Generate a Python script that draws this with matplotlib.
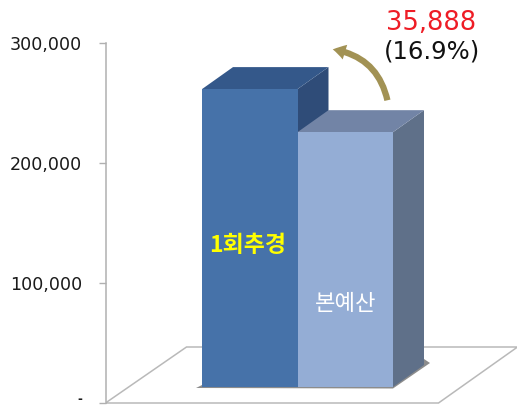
import matplotlib
matplotlib.use("Agg")
import matplotlib.pyplot as plt
from matplotlib.patches import FancyArrowPatch, Polygon

KR = ['Noto Sans CJK KR', 'DejaVu Sans']
W, H = 517, 405

categories = ['1회추경', '본예산']
values = [248246, 212358]
change_label = '35,888'
pct_label = '(16.9%)'
yticks = [0, 100000, 200000, 300000]
yticklabels = ['-', '100,000', '200,000', '300,000']

front_colors = ['#4672A9', '#94ADD5']
top_colors = ['#34588A', '#7284A6']
side_colors = ['#2F4C78', '#5F7089']
label_colors = ['#FFFF00', '#FFFFFF']

fig = plt.figure(figsize=(W / 100, H / 100), dpi=100)
ax_left = 105.5
ax = fig.add_axes([ax_left / W, 0, 1 - ax_left / W, 1])
ax.set_facecolor('none')

PXX = 95.5          # pixels per category
PXY = 120 / 100000  # pixels per value
x0 = 202            # pixel of left edge of the first bar
ax.set_xlim(-0.5 - (x0 - ax_left) / PXX, -0.5 + (W - x0) / PXX)
ax.set_ylim(-2 / PXY, (403) / PXY)

def dx(px):
    return px / PXX

def dy(px):
    return px / PXY

# floor
xl = ax.get_xlim()[0]
floor = [(xl, 0), (xl + dx(333), 0), (xl + dx(412), dy(56)), (xl + dx(81), dy(56))]
ax.add_patch(Polygon(floor, closed=True, fc='white', ec='#B9B9B9', lw=1.1, zorder=1))

base = dy(16)
depth_x, depth_y = dx(31), dy(22)
bw = 1.0

# shadow at the base
ax.add_patch(Polygon([(-0.5 - dx(6), base - dy(1)), (1.5, base - dy(1.5)),
                      (1.5 + depth_x + dx(6), base + depth_y + dy(2)),
                      (1.5 + depth_x, base + depth_y + dy(6)), (-0.5, base + dy(2))],
                     closed=True, fc='#666666', ec='none', alpha=0.75, zorder=1.5))

for i, v in enumerate(values):
    z = 2 + i
    l, r = i - bw / 2, i + bw / 2
    t = base + v
    ax.add_patch(Polygon([(r, base), (r + depth_x, base + depth_y), (r + depth_x, t + depth_y), (r, t)],
                         closed=True, fc=side_colors[i], ec='none', zorder=z))
    ax.add_patch(Polygon([(l, t), (r, t), (r + depth_x, t + depth_y), (l + depth_x, t + depth_y)],
                         closed=True, fc=top_colors[i], ec='none', zorder=z))
    ax.bar(i, v, width=bw, bottom=base, color=front_colors[i], zorder=z + 0.1, linewidth=0)

ax.text(-dx(2), dy(403 - 246), categories[0], color=label_colors[0], fontsize=16.5, fontweight='bold',
        family=KR, ha='center', va='center', zorder=6)
ax.text(1, dy(403 - 304), categories[1], color=label_colors[1], fontsize=16, fontweight='medium',
        family=KR, ha='center', va='center', zorder=6)

# axis
for s in ['top', 'right', 'bottom']:
    ax.spines[s].set_visible(False)
ax.spines['left'].set_bounds(0, 300000)
ax.spines['left'].set_color('#B0B0B0')
ax.spines['left'].set_linewidth(1.1)
ax.spines['left'].set_zorder(1.2)
ax.set_xticks([])
ax.set_yticks(yticks)
ax.set_yticklabels(yticklabels, fontsize=12.6, color='#1a1a1a', family='DejaVu Sans')
ax.tick_params(axis='y', length=5, width=1, color='#B0B0B0', pad=12)
zero = ax.get_yticklabels()[0]
zero.set_va('baseline')
zero.set_fontweight('bold')
zero.set_fontsize(8.5)

# change annotation
fig.text(431 / W, 1 - 23 / H, change_label, color='#EE1C25', fontsize=18.5, ha='center', va='center',
         family='DejaVu Sans')
fig.text(432 / W, 1 - 51 / H, pct_label, color='#111111', fontsize=17.5, ha='center', va='center',
         family='DejaVu Sans')

arrow = FancyArrowPatch((388 / W, 1 - 103 / H), (330 / W, 1 - 49 / H), transform=fig.transFigure,
                        connectionstyle='arc3,rad=0.36',
                        arrowstyle='simple,head_length=9,head_width=11,tail_width=4.5',
                        fc='#A29254', ec='none', zorder=10, mutation_scale=1)
fig.add_artist(arrow)

fig.savefig('out.png', dpi=100)
